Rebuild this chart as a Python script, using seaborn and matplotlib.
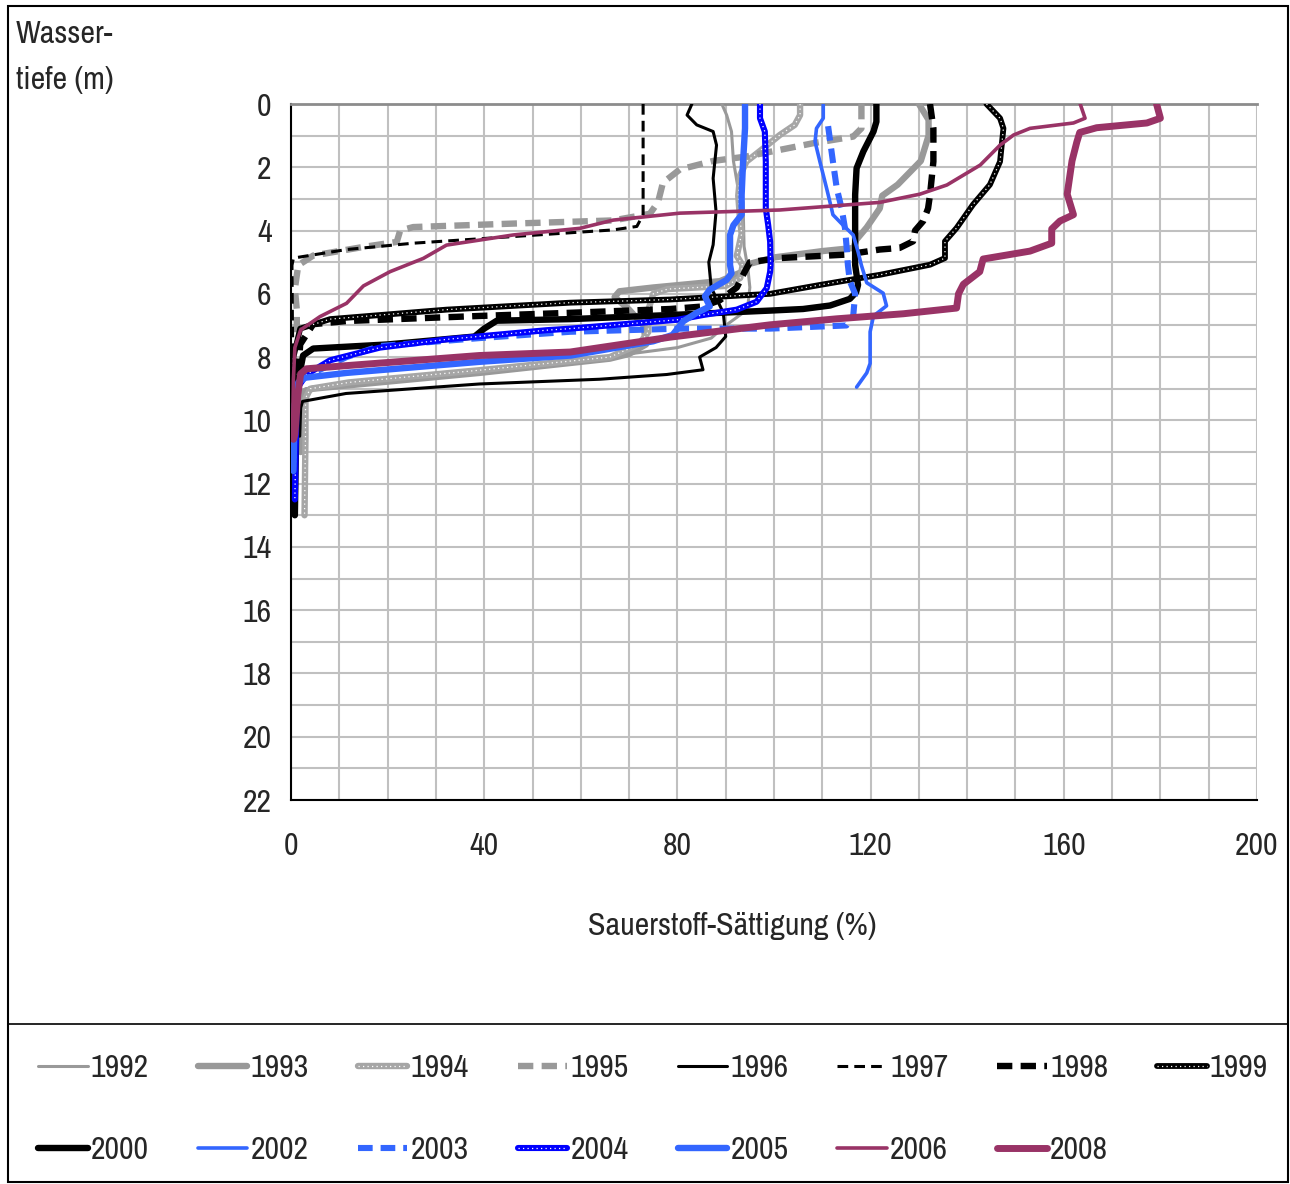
import matplotlib
matplotlib.use("Agg")
import matplotlib.pyplot as plt
import matplotlib.font_manager as fm
from matplotlib.lines import Line2D
from matplotlib.patches import Rectangle
import seaborn as sns

# ---------------- data (saturation %, depth m) ----------------
s1992 = [89.2, 90.2, 91.2, 91.6, 92.6, 93.6, 93.8, 94.6, 95.0, 94.5, 90.0, 87.0, 80.0, 60.0, 39.0, 11.4, 3.0, 2.0, 1.8]
d1992 = [0, 0.35, 0.87, 1.8, 2.7, 3.1, 4.5, 5.2, 5.8, 6.5, 7.0, 7.4, 7.7, 8.1, 8.4, 8.85, 9.0, 9.3, 10.5]

s1993 = [130, 132, 132, 130.4, 125.6, 122.4, 121.9, 119.2, 117, 116.5, 110, 100, 95, 93.5, 88.8, 75, 68, 67, 70, 73, 73.5, 70, 66, 39, 11.4, 4.5, 2.4, 2.0, 2.0]
d1993 = [0, 0.5, 1.0, 1.8, 2.55, 2.9, 3.3, 3.9, 4.3, 4.55, 4.65, 4.85, 5.05, 5.3, 5.6, 5.8, 5.92, 6.1, 6.5, 7.0, 7.6, 7.9, 8.05, 8.5, 8.9, 9.0, 9.1, 10.0, 11.0]

s1994 = [105.4, 105.4, 104.3, 101.2, 97.8, 94.3, 93, 92.6, 93, 93.3, 92.3, 93.5, 93, 90, 78, 75, 74, 74, 72, 66, 40, 12, 4, 3, 3, 2.8]
d1994 = [0, 0.35, 0.66, 0.98, 1.4, 1.82, 2.25, 2.9, 3.7, 4.1, 4.8, 5.1, 5.5, 5.75, 5.85, 6.0, 6.5, 7.2, 7.6, 8.0, 8.4, 8.8, 9.0, 9.3, 10.5, 13.0]

s1995 = [118.1, 118.1, 116.4, 108.1, 101.2, 94.3, 87.4, 80.5, 77, 76, 74.3, 66.7, 46, 25.3, 22.6, 21.9, 14.9, 4.6, 1.5, 0.8, 1.2, 1.2]
d1995 = [0, 0.77, 1.03, 1.24, 1.45, 1.66, 1.8, 2.07, 2.49, 3.1, 3.47, 3.68, 3.78, 3.89, 4.0, 4.36, 4.52, 4.79, 5.1, 5.84, 6.5, 7.3]

s1996 = [83, 82, 84, 87.4, 88.1, 87.4, 88, 87.4, 86.5, 87, 89.5, 90, 88, 84.6, 85.3, 77.8, 63.9, 39, 11.4, 2.4, 2.0, 1.8]
d1996 = [0, 0.35, 0.66, 0.87, 1.3, 2.35, 3.4, 4.45, 5.0, 5.8, 6.6, 7.35, 7.7, 8.0, 8.4, 8.55, 8.7, 8.85, 9.15, 9.4, 9.6, 10.5]

s1997 = [72.9, 72.9, 71.6, 66.7, 46, 25.3, 11.5, 0.5, 0.2, 0.3, 0.5]
d1997 = [0, 3.5, 3.87, 3.98, 4.19, 4.4, 4.6, 4.87, 5.1, 7.0, 9.0]

s1998 = [132.3, 133, 133, 132.3, 131.9, 130.9, 129.2, 128.8, 126, 121.9, 115, 101.2, 95, 93.6, 92.3, 88.8, 85.3, 78.5, 57.8, 39, 11.5, 4.6, 1.9, 1.5, 1.2]
d1998 = [0, 0.77, 1.82, 2.87, 3.3, 3.7, 4.0, 4.34, 4.55, 4.6, 4.76, 4.87, 5.0, 5.4, 5.8, 6.2, 6.4, 6.48, 6.6, 6.7, 6.86, 6.96, 7.6, 8.5, 9.5]

s1999 = [144, 146.8, 147.5, 146.8, 144.7, 141.2, 137.8, 135.4, 135.4, 132.3, 121.9, 119.9, 109.5, 99.2, 78.5, 57.8, 32.2, 8.1, 1.9, 0.5, 0.5]
d1999 = [0, 0.45, 0.77, 1.82, 2.55, 3.18, 3.92, 4.34, 4.87, 5.08, 5.4, 5.45, 5.72, 6.0, 6.18, 6.28, 6.5, 6.8, 7.1, 8.0, 10.5]

s2000 = [121.2, 121.2, 120.6, 118.5, 117.1, 116.8, 116.8, 117.1, 117.4, 117, 115.7, 111.6, 106, 99.2, 78.5, 57.8, 42.6, 40, 38, 20, 4.6, 2.5, 1.2, 0.8]
d2000 = [0, 0.56, 0.87, 1.5, 2.03, 2.87, 5.09, 5.4, 5.72, 5.95, 6.16, 6.37, 6.48, 6.53, 6.67, 6.8, 6.85, 7.1, 7.35, 7.6, 7.73, 7.95, 9.0, 13.0]

s2002 = [110.2, 110.2, 108.8, 108.5, 109.5, 110.9, 111.9, 112.2, 114.3, 116.4, 117.4, 118.1, 119.2, 122.6, 123.3, 120.6, 119.9, 119.9, 119.2, 117.1]
d2002 = [0, 0.45, 0.77, 1.19, 1.82, 2.67, 3.3, 3.5, 3.83, 4.14, 4.67, 5.1, 5.65, 5.98, 6.38, 6.7, 7.2, 8.2, 8.5, 8.95]

s2003 = [111.2, 112.2, 113, 114, 114.7, 115, 115.3, 115.7, 116.8, 116.4, 115, 99.2, 80.5, 57.8, 39, 18.4, 11.5, 4.6, 1.9, 1.2]
d2003 = [0.7, 1.82, 2.67, 3.3, 3.93, 4.46, 5.1, 5.6, 6.0, 6.7, 7.0, 7.1, 7.1, 7.2, 7.4, 7.65, 8.0, 8.5, 8.7, 9.2]

s2004 = [97.1, 97.1, 98.1, 98.3, 98.3, 98.8, 99.2, 99.3, 99.2, 98.5, 96.4, 92.3, 85.3, 80, 57.8, 52.9, 32.2, 18.4, 8.1, 3.2, 1.2, 0.8]
d2004 = [0, 0.45, 0.87, 1.82, 3.3, 3.83, 4.35, 5.09, 5.3, 5.82, 6.25, 6.5, 6.67, 6.82, 7.1, 7.15, 7.44, 7.7, 8.1, 8.55, 9.0, 12.5]

s2005 = [94, 94, 93.6, 93.3, 93.3, 91.6, 90.9, 90.9, 91.2, 90.2, 86.7, 85.7, 86.7, 84, 81.2, 79, 75, 58, 39, 11.5, 3, 1.5, 0.8, 0.5]
d2005 = [0, 0.77, 1.82, 2.87, 3.5, 3.83, 4.14, 5.09, 5.35, 5.56, 5.87, 6.08, 6.4, 6.6, 6.87, 7.3, 7.5, 7.95, 8.15, 8.5, 8.65, 8.8, 9.5, 11.6]

s2006 = [163.4, 164.4, 162, 153, 149.6, 146.8, 142.7, 135.8, 130.2, 121.9, 101.2, 80.5, 66.7, 59.8, 46, 32.2, 27.4, 20.5, 15, 11.5, 6, 2, 0.8, 0.5, 0.3]
d2006 = [0, 0.45, 0.6, 0.77, 0.98, 1.3, 1.93, 2.56, 2.85, 3.11, 3.35, 3.45, 3.67, 3.93, 4.14, 4.46, 4.88, 5.3, 5.75, 6.3, 6.72, 7.14, 7.7, 8.7, 10.5]

s2008 = [179.2, 180, 177.2, 166.8, 163.3, 162.7, 161.7, 160.7, 162, 159.2, 157.5, 157.5, 153, 143.3, 142.6, 139.2, 138.2, 137.8, 126.8, 113, 99.2, 78.5, 57.8, 39, 11.5, 3.2, 2, 1.4, 0.8, 0.5]
d2008 = [0, 0.45, 0.6, 0.75, 0.9, 1.2, 1.8, 2.85, 3.5, 3.7, 3.95, 4.4, 4.65, 4.9, 5.3, 5.7, 6.0, 6.45, 6.63, 6.79, 6.98, 7.37, 7.84, 7.95, 8.27, 8.37, 8.53, 9.2, 10.45, 10.6]

years = ["1992", "1993", "1994", "1995", "1996", "1997", "1998", "1999",
         "2000", "2002", "2003", "2004", "2005", "2006", "2008"]
x_ticks = [0, 40, 80, 120, 160, 200]
y_ticks = [0, 2, 4, 6, 8, 10, 12, 14, 16, 18, 20, 22]

series = {
    "1992": (s1992, d1992), "1993": (s1993, d1993), "1994": (s1994, d1994),
    "1995": (s1995, d1995), "1996": (s1996, d1996), "1997": (s1997, d1997),
    "1998": (s1998, d1998), "1999": (s1999, d1999), "2000": (s2000, d2000),
    "2002": (s2002, d2002), "2003": (s2003, d2003), "2004": (s2004, d2004),
    "2005": (s2005, d2005), "2006": (s2006, d2006), "2008": (s2008, d2008),
}

# ---------------- styles ----------------
GRAY = "#999999"
BLACK = "#000000"
LBLUE = "#3366FF"
BLUE = "#0000FF"
PURPLE = "#993366"
DASH_T = (0, (2.4, 1.3))
DASH_N = (0, (3.5, 2.0))
styles = {
    "1992": dict(color=GRAY, lw=2.2, ls="-"),
    "1993": dict(color=GRAY, lw=4.6, ls="-"),
    "1994": dict(color="#A6A6A6", lw=4.6, ls="-", dots=True),
    "1995": dict(color=GRAY, lw=4.6, ls=DASH_T),
    "1996": dict(color=BLACK, lw=2.2, ls="-"),
    "1997": dict(color=BLACK, lw=2.2, ls=DASH_N),
    "1998": dict(color=BLACK, lw=4.6, ls=DASH_T),
    "1999": dict(color=BLACK, lw=4.2, ls="-", dots=True),
    "2000": dict(color=BLACK, lw=4.6, ls="-"),
    "2002": dict(color=LBLUE, lw=2.6, ls="-"),
    "2003": dict(color=LBLUE, lw=4.4, ls=DASH_T),
    "2004": dict(color=BLUE, lw=4.4, ls="-", dots=True),
    "2005": dict(color=LBLUE, lw=4.6, ls="-"),
    "2006": dict(color=PURPLE, lw=2.6, ls="-"),
    "2008": dict(color=PURPLE, lw=5.0, ls="-"),
}

# ---------------- fonts ----------------
sns.set_style("white")
def _has(fam):
    try:
        fm.findfont(fm.FontProperties(family=fam), fallback_to_default=False)
        return True
    except Exception:
        return False
FAMS = [f for f in ["Archivo Narrow", "PT Sans Narrow", "Roboto Condensed",
                    "Liberation Sans", "DejaVu Sans"] if _has(f)]
plt.rcParams["font.family"] = FAMS[:1] + ["DejaVu Sans"]
FS = 23

W, H = 1290, 1184
fig = plt.figure(figsize=(W / 100, H / 100), dpi=100)
ax = fig.add_axes([291 / W, 1 - 800 / H, (1257 - 291) / W, (800 - 104) / H])

handles = {}
for y in years:
    sx, dy = series[y]
    st = styles[y]
    sns.lineplot(x=sx, y=dy, sort=False, estimator=None, errorbar=None, ax=ax,
                 color=st["color"], linewidth=st["lw"], linestyle=st["ls"],
                 legend=False, zorder=3)
    base = ax.lines[-1]
    if st.get("dots"):
        sns.lineplot(x=sx, y=dy, sort=False, estimator=None, errorbar=None, ax=ax,
                     color="white", linewidth=0.9, linestyle=(0, (1, 2.6)),
                     legend=False, zorder=3)
        handles[y] = (base, ax.lines[-1])
    else:
        handles[y] = base

ax.set_xlim(0, 200)
ax.set_ylim(22, 0)
ax.set_xticks(x_ticks)
ax.set_xticks(range(0, 201, 10), minor=True)
ax.set_yticks(y_ticks)
ax.set_yticks(range(0, 23, 1), minor=True)
ax.set_xticklabels([str(v) for v in x_ticks])
ax.set_yticklabels([str(v) for v in y_ticks])
ax.grid(True, which="both", color="#C0C0C0", linewidth=1.5)
ax.set_axisbelow(True)
ax.tick_params(which="minor", length=0)
ax.tick_params(which="major", direction="out", length=6, width=1.5, color="black",
               labelsize=FS)
ax.tick_params(axis="x", pad=17)
ax.tick_params(axis="y", pad=8)
for side in ["left", "bottom"]:
    ax.spines[side].set_color("black")
    ax.spines[side].set_linewidth(1.5)
ax.spines["right"].set_visible(False)
ax.spines["top"].set_color("#8C8C8C")
ax.spines["top"].set_linewidth(2)
ax.set_xlabel("")
ax.set_ylabel("")

fig.text(732 / W, 1 - 926 / H, "Sauerstoff-Sättigung (%)", ha="center", va="center", fontsize=FS)
fig.text(16 / W, 1 - 20 / H, "Wasser-\ntiefe (m)", ha="left", va="top", fontsize=FS,
         linespacing=1.8)

# frame and divider
fig.add_artist(Rectangle((8 / W, 2 / H), (1288 - 8) / W, (1178 - 2) / H,
                         transform=fig.transFigure, fill=False, edgecolor="black", lw=1.5))
fig.add_artist(Line2D([8 / W, 1288 / W], [1 - 1024 / H, 1 - 1024 / H],
                      transform=fig.transFigure, color="black", lw=1.2))

# legend: two rows, row-first order
row1 = years[:8]
row2 = years[8:]
order = []
for i in range(8):
    order.append(row1[i])
    if i < len(row2):
        order.append(row2[i])
leg = fig.legend([handles[y] for y in order], order, ncol=8, loc="upper left",
                 bbox_to_anchor=(38 / W, 1 - 1066 / H, (1268 - 38) / W, 0.01),
                 mode="expand", frameon=False, fontsize=FS, handlelength=1.55,
                 handletextpad=0.1, labelspacing=1.7, borderpad=0, borderaxespad=0)

fig.savefig("out.png", dpi=100)
